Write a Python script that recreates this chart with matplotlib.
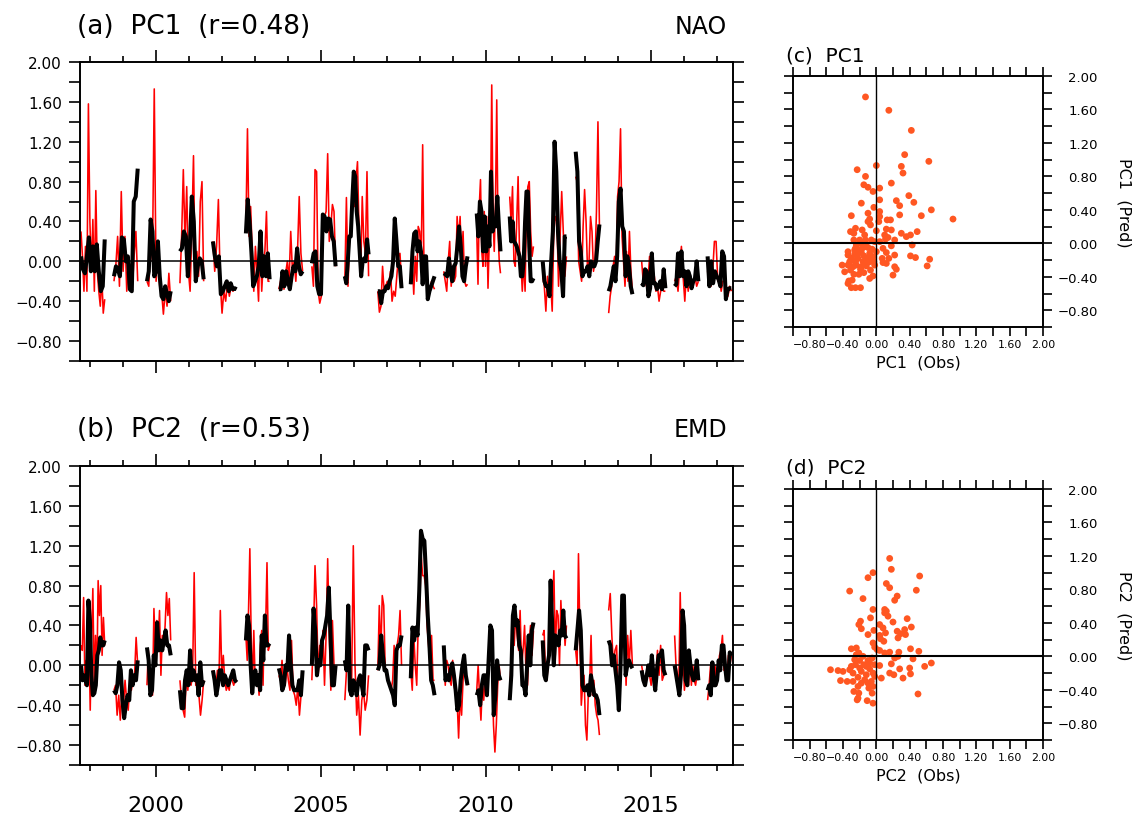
import numpy as np
import matplotlib
matplotlib.use('Agg')
import matplotlib.pyplot as plt

plt.rcParams['font.family'] = ['DejaVu Sans']
plt.rcParams['axes.unicode_minus'] = True

# one season per year, Oct -> mid Jun
season_years = np.arange(1997, 2017)
season_start = 0.73
season_len = 0.72

# PC1, red (pred) and black (obs), one list per season
pc1_red = [
    [0.30, 0.05, -0.30, 0.15, -0.30, 1.58, 0.40, -0.10, 0.42, -0.30, 0.71, -0.10, -0.30, -0.45, -0.15, -0.52, -0.38],
    [-0.20, -0.05, 0.25, -0.25, 0.70, -0.10, 0.25, -0.30, 0.05, -0.12, -0.30, 0.05, 0.30, -0.20],
    [-0.20, -0.25, 0.25, 0.00, 1.73, -0.20, 0.10, -0.25, -0.30, -0.53, -0.30, -0.45, -0.12, -0.40],
    [-0.22, 0.25, 0.92, 0.20, 0.75, -0.10, -0.30, 0.30, 1.06, -0.20, 0.10, -0.15, 0.60, 0.80, -0.20],
    [0.20, -0.10, 0.15, 0.62, -0.20, -0.52, -0.30, -0.40, -0.20, -0.35, -0.25, -0.30, -0.27, -0.27],
    [0.35, 1.33, 0.25, 0.55, 0.10, -0.30, 0.15, -0.10, -0.40, 0.30, -0.30, 0.00, 0.10, 0.50, -0.20, -0.20],
    [-0.28, -0.20, -0.10, -0.28, -0.12, 0.00, -0.20, 0.30, -0.10, 0.00, -0.20, 0.10, 0.65, 0.08, -0.10],
    [-0.05, -0.25, 0.92, 0.90, -0.30, -0.42, -0.35, 0.30, 0.45, 0.50, 1.08, 0.20, 0.35, 0.57, 0.50, -0.05],
    [-0.20, 0.64, -0.25, 0.25, 0.30, 0.60, 0.55, 0.80, 1.00, 0.30, -0.15, 0.65, 0.20, 0.08, 0.90, -0.15],
    [-0.30, -0.51, -0.45, -0.05, -0.30, -0.25, -0.20, -0.25, -0.10, -0.40, -0.30, -0.35, -0.15, 0.05, 0.08, -0.20],
    [-0.23, 0.00, -0.33, 0.05, -0.20, 0.35, 0.30, 0.00, 1.17, -0.20, 0.00, -0.25, -0.33, -0.30, -0.20, -0.25, -0.28],
    [-0.10, -0.20, -0.30, 0.00, 0.20, -0.25, -0.05, -0.20, -0.15, 0.45, 0.20, 0.45, 0.00, 0.30, -0.20, -0.25, -0.23],
    [0.30, -0.23, 0.55, 0.82, 0.10, -0.05, 0.50, -0.05, 0.45, -0.27, 0.20, 0.45, 1.77, 0.45, 0.10, 0.60, 1.62, 0.30, 0.00, -0.12],
    [0.65, 0.40, 0.75, 0.00, -0.05, 0.40, 0.85, 0.10, 0.00, -0.30, 0.00, -0.30, 0.50, 0.75, 0.80, 0.30, 0.05, 0.15],
    [-0.15, -0.25, -0.50, -0.15, -0.30, -0.20, -0.50, 0.30, 0.45, 0.40, -0.25, 0.25, 0.70, 0.30, -0.15, 0.05],
    [0.85, 0.80, 0.00, -0.10, -0.20, 0.35, 0.72, 0.40, -0.10, 0.00, 0.45, 0.30, -0.10, 0.00, 0.50, 1.40, 0.35],
    [-0.52, -0.35, -0.25, -0.05, 0.05, -0.15, 0.65, 0.80, 1.33, 0.25, 0.00, -0.25, 0.10, -0.20, 0.30, -0.10, -0.30],
    [0.00, -0.20, -0.15, -0.25, -0.20, 0.05, -0.20, -0.10, -0.15, -0.30, -0.25, -0.40, -0.30, -0.25, -0.30, -0.30],
    [-0.20, -0.15, -0.30, -0.05, 0.15, -0.15, -0.40, -0.10, -0.30, -0.15, -0.25, -0.20, -0.15, -0.25, -0.20],
    [-0.10, -0.20, -0.25, -0.10, 0.20, 0.20, -0.20, -0.15, -0.30, -0.20, -0.20, -0.25, -0.35, -0.25, -0.30],
]
pc1_black = [
    [0.05, -0.08, -0.12, 0.05, 0.24, -0.10, 0.15, -0.10, 0.17, -0.10, -0.30, -0.25, 0.22],
    [-0.15, -0.05, -0.08, -0.15, 0.24, 0.22, 0.00, 0.05, -0.28, -0.30, 0.60, 0.65, 0.93],
    [-0.20, -0.10, 0.42, 0.30, -0.15, -0.10, 0.20, -0.15, -0.35, -0.38, -0.25, -0.33, -0.40, -0.30],
    [0.10, 0.13, 0.30, 0.25, -0.15, 0.15, 0.65, 0.40, -0.20, -0.05, 0.03, 0.00, -0.18],
    [0.20, 0.05, -0.05, 0.05, -0.33, -0.30, -0.25, -0.20, -0.30, -0.22, -0.28, -0.27, -0.28],
    [0.28, 0.62, 0.40, 0.10, -0.25, -0.20, -0.15, -0.05, 0.30, -0.15, 0.05, -0.15, 0.08, -0.18],
    [-0.28, -0.28, -0.10, -0.25, -0.10, -0.20, -0.28, -0.15, -0.05, -0.10, 0.13, -0.05, -0.13, -0.10],
    [-0.02, 0.08, 0.10, -0.25, -0.33, -0.33, 0.47, 0.45, 0.30, 0.43, 0.42, 0.25, 0.20, -0.05],
    [-0.15, -0.22, 0.00, 0.25, 0.25, 0.60, 0.90, 0.85, 0.50, 0.35, 0.10, -0.15, 0.00, 0.03, 0.00, 0.22, 0.07],
    [-0.30, -0.30, -0.42, -0.30, -0.30, -0.25, -0.27, -0.20, -0.15, 0.00, 0.43, 0.20, -0.05, -0.05, -0.27],
    [-0.23, 0.10, 0.28, 0.30, 0.10, 0.20, 0.10, -0.23, 0.05, 0.05, -0.38, -0.30, -0.25, -0.20, -0.15],
    [-0.12, -0.13, -0.15, 0.03, -0.10, -0.20, -0.05, -0.02, 0.15, 0.35, 0.15, -0.15, -0.20, -0.05, 0.05],
    [0.48, 0.25, 0.60, 0.50, 0.10, 0.45, 0.10, 0.35, 0.15, 0.90, 0.30, 0.40, 0.35, 0.65, 0.35, 0.10],
    [0.45, 0.20, 0.40, 0.20, 0.18, 0.15, 0.10, 0.05, -0.15, -0.15, 0.00, 0.40, 0.70, 0.70, 0.15, -0.20, -0.20, -0.17],
    [0.00, -0.20, -0.25, -0.25, -0.35, 0.00, 0.30, 1.20, 0.90, 0.30, 0.00, -0.10, -0.35, 0.25, 0.25],
    [1.10, 0.90, 0.20, 0.10, -0.15, -0.10, -0.10, -0.05, -0.15, 0.00, -0.05, -0.05, 0.00, 0.20, 0.37],
    [-0.30, -0.25, -0.15, -0.05, -0.20, 0.05, 0.60, 0.73, 0.35, 0.30, -0.15, 0.05, -0.05, -0.25, -0.33],
    [-0.22, -0.24, -0.08, -0.10, -0.35, -0.27, 0.08, -0.22, -0.22, -0.28, -0.25, -0.20, -0.28, -0.08, -0.27],
    [-0.25, -0.23, 0.08, -0.15, 0.10, -0.15, -0.10, -0.25, -0.10, -0.15, -0.27, -0.20, -0.17, 0.00, -0.20],
    [0.05, -0.25, 0.00, -0.22, -0.10, -0.15, -0.18, -0.25, 0.10, 0.05, -0.38, -0.28, -0.27, -0.27],
]

# PC2, same layout
pc2_red = [
    [0.20, 0.15, 0.68, -0.20, 0.05, -0.15, 0.30, -0.45, 0.30, 0.77, -0.20, 0.30, -0.15, 0.85, 0.50, 0.80, 0.10, 0.48, 0.20],
    [-0.25, -0.20, -0.50, -0.30, -0.55, -0.25, -0.40, -0.15, -0.35, -0.45, -0.20, -0.25, -0.15, -0.10, 0.28, 0.00],
    [-0.20, 0.15, -0.25, -0.10, -0.30, 0.57, 0.15, 0.45, 0.20, 0.55, -0.10, 0.30, 0.20, 0.40, 0.73, 0.50, 0.67, 0.25],
    [-0.15, -0.35, -0.45, -0.52, -0.10, -0.25, 0.05, -0.20, -0.10, 0.93, -0.20, -0.15, -0.30, -0.50, -0.35, -0.15],
    [-0.05, -0.10, -0.25, -0.05, -0.20, 0.55, -0.10, 0.10, -0.15, -0.25, -0.20, -0.25, -0.10, -0.15, -0.20, -0.15, -0.17],
    [0.30, 0.05, 0.55, 1.17, 0.30, -0.25, 0.35, -0.15, -0.20, -0.10, -0.30, 0.20, 0.35, -0.20, 0.50, 0.40, 1.03, 0.15, 0.20],
    [-0.10, -0.15, 0.05, -0.20, -0.20, 0.00, -0.15, -0.25, 0.25, -0.25, -0.30, -0.40, -0.20, -0.50, -0.30, -0.30],
    [-0.15, 0.30, 1.00, 0.60, -0.10, 0.20, 0.00, 0.35, -0.20, 0.30, 1.07, 0.30, -0.25, 0.45, 0.00, -0.10],
    [-0.35, -0.05, 0.30, -0.30, -0.20, 1.20, 0.00, -0.50, -0.30, -0.70, -0.35, -0.25, -0.45, -0.35, -0.10],
    [-0.05, 0.60, 0.10, 0.70, 0.60, -0.05, -0.10, -0.15, -0.20, -0.25, -0.15, 0.20, -0.20, 0.20, 0.30, 0.55, 0.00],
    [-0.05, -0.25, 0.30, 0.00, -0.20, 0.40, 0.60, 1.10, 0.90, 0.90, 0.80, 0.40, 0.20, 0.00, 0.30, -0.15, -0.15],
    [0.15, -0.20, 0.05, 0.00, -0.15, -0.20, 0.05, -0.20, -0.30, -0.35, -0.73, -0.30, -0.50, -0.15, -0.05, -0.10, -0.20],
    [-0.25, 0.00, -0.30, -0.55, -0.20, -0.35, -0.10, -0.20, -0.10, 0.20, 0.40, -0.05, -0.60, -0.87, -0.60, -0.20, 0.00, -0.15],
    [-0.25, 0.05, 0.30, 0.20, 0.50, 0.30, 0.15, 0.55, 0.00, 0.15, 0.40, -0.10, -0.20, 0.20, 0.40, 0.10, 0.35],
    [0.30, 0.35, -0.10, -0.15, 0.05, 0.30, 0.20, 0.60, 0.95, 0.10, 0.55, 0.50, 0.00, 0.65, 0.30, 0.50, 0.20, 0.40],
    [0.15, 0.00, 1.12, 0.30, -0.40, -0.20, -0.10, -0.60, -0.75, -0.30, -0.20, 0.30, -0.30, -0.15, -0.40, -0.50, -0.55, -0.70],
    [0.55, 0.72, 0.30, 0.00, 0.15, 0.20, -0.30, -0.15, 0.30, 0.60, 0.40, -0.20, 0.30, 0.00, 0.35, 0.00],
    [0.00, -0.10, -0.15, -0.10, 0.00, -0.10, -0.20, -0.05, -0.15, -0.10, 0.15, -0.10, 0.20, -0.15, -0.10, -0.05],
    [0.30, 0.00, -0.10, -0.20, 0.73, -0.05, 0.10, -0.25, -0.10, -0.15, -0.20, 0.10, -0.20, 0.00, -0.15, -0.20, -0.10, -0.15],
    [-0.35, -0.20, 0.00, 0.00, -0.20, 0.00, -0.20, -0.05, 0.10, 0.15, 0.30, -0.05, 0.00, -0.15, 0.10, 0.00, 0.10],
]
pc2_black = [
    [0.00, -0.15, -0.10, -0.15, -0.20, 0.65, 0.45, -0.10, -0.30, -0.28, -0.20, 0.10, 0.15, 0.28, 0.20, 0.20, 0.25],
    [-0.25, -0.28, -0.20, 0.03, -0.05, -0.35, -0.53, -0.40, -0.30, -0.35, -0.05, -0.20, -0.10, -0.15, 0.05],
    [0.18, 0.05, -0.30, -0.25, 0.10, 0.00, 0.43, 0.15, 0.25, 0.15, 0.25, 0.35, 0.20, 0.20, 0.10],
    [-0.25, -0.43, -0.43, -0.15, -0.05, -0.20, 0.15, -0.15, -0.05, -0.15, -0.10, -0.30, 0.03, -0.20, -0.15],
    [-0.05, -0.15, -0.30, -0.20, -0.05, -0.05, -0.20, -0.10, -0.15, -0.20, -0.15, -0.10, -0.05, -0.15, -0.17],
    [0.25, 0.50, 0.40, 0.00, -0.28, -0.10, -0.05, -0.20, -0.10, -0.25, 0.30, 0.05, 0.50, 0.20, 0.20, 0.22],
    [-0.03, -0.10, -0.25, -0.20, 0.00, -0.05, 0.30, 0.00, -0.20, -0.25, -0.25, -0.25, -0.15, -0.30, -0.05],
    [0.00, 0.57, 0.35, -0.10, 0.05, 0.00, 0.25, 0.30, 0.40, 0.50, 0.78, 0.30, -0.20, -0.20, 0.00],
    [0.05, -0.05, 0.60, -0.25, -0.30, -0.15, -0.20, -0.30, -0.15, -0.10, -0.20, -0.30, 0.20, 0.20, 0.15],
    [-0.05, 0.00, 0.30, 0.10, -0.05, -0.05, -0.15, -0.20, -0.25, -0.30, -0.40, 0.15, 0.20, 0.20, 0.30],
    [-0.13, 0.38, 0.25, 0.38, 0.30, 0.75, 1.35, 1.27, 1.25, 0.90, 0.50, 0.20, -0.15, -0.20, -0.30],
    [0.20, -0.15, -0.10, -0.15, -0.05, 0.02, -0.10, -0.25, -0.45, -0.40, -0.15, 0.00, 0.10, -0.10, -0.20],
    [-0.30, -0.25, -0.40, -0.20, -0.10, -0.10, -0.30, 0.05, 0.40, 0.35, -0.50, -0.30, 0.05, -0.10, -0.15],
    [-0.35, -0.10, 0.50, 0.60, 0.40, 0.45, 0.20, 0.15, -0.20, -0.20, -0.30, 0.00, 0.30, 0.00, 0.35, 0.43],
    [0.25, -0.10, -0.15, 0.00, 0.10, 0.85, 0.40, 0.00, 0.30, 0.25, 0.20, 0.35, 0.30, 0.55, 0.30, 0.27],
    [0.15, 0.35, 0.55, 0.35, -0.20, -0.25, -0.25, -0.20, -0.30, -0.10, -0.20, -0.30, -0.30, -0.35, -0.50],
    [0.25, 0.20, 0.00, 0.10, -0.05, -0.20, -0.45, 0.00, 0.70, 0.70, -0.10, 0.00, 0.05, 0.00, -0.03],
    [-0.05, -0.15, -0.20, -0.10, 0.00, -0.10, 0.10, -0.10, -0.25, -0.05, 0.10, 0.10, 0.15, -0.05, -0.10],
    [0.00, -0.10, -0.20, -0.30, -0.10, 0.55, 0.40, -0.15, -0.20, 0.15, 0.00, -0.10, -0.15, -0.10, 0.05, -0.15],
    [-0.25, -0.20, -0.30, 0.03, -0.20, -0.20, -0.15, 0.05, -0.05, 0.20, 0.20, 0.00, -0.15, -0.15, 0.13, 0.10],
]

# scatter pairs (obs, pred)
pc1_scatter = [
    (-0.13, 1.75), (0.15, 1.59), (0.42, 1.35), (0.34, 1.06), (0.63, 0.98), (0.00, 0.93),
    (0.30, 0.92), (-0.23, 0.88), (0.32, 0.84), (-0.13, 0.80), (0.18, 0.72), (-0.15, 0.70),
    (-0.10, 0.67), (0.04, 0.66), (-0.04, 0.62), (0.39, 0.57), (-0.18, 0.48), (0.04, 0.52),
    (0.24, 0.51), (0.45, 0.49), (0.28, 0.45), (-0.03, 0.43), (0.66, 0.40), (0.04, 0.38),
    (-0.10, 0.36), (0.28, 0.34), (0.54, 0.33), (-0.30, 0.33), (0.92, 0.29), (0.04, 0.32),
    (-0.08, 0.29), (0.13, 0.28), (0.17, 0.28), (-0.10, 0.26), (0.03, 0.26), (-0.07, 0.22),
    (0.00, 0.15), (0.12, 0.17), (0.18, 0.16), (0.49, 0.14), (-0.17, 0.16), (-0.25, 0.18),
    (-0.31, 0.14), (-0.27, 0.12), (0.30, 0.12), (0.41, 0.10), (0.10, 0.10), (-0.14, 0.10),
    (0.36, 0.08), (0.14, 0.07), (0.11, 0.05), (0.22, 0.04), (-0.27, 0.04), (-0.20, 0.04),
    (-0.13, 0.04), (-0.06, 0.04), (-0.02, 0.02), (0.04, 0.02), (-0.24, -0.02), (0.43, -0.02),
    (0.18, -0.03), (0.08, -0.06), (-0.12, -0.04), (-0.17, -0.06), (-0.25, -0.06), (-0.05, -0.07),
    (-0.34, -0.10), (-0.18, -0.11), (0.00, -0.10), (0.12, -0.11), (-0.34, -0.14), (-0.26, -0.13),
    (0.22, -0.14), (0.41, -0.15), (0.47, -0.17), (0.64, -0.19), (-0.22, -0.18), (-0.10, -0.18),
    (-0.04, -0.16), (0.07, -0.18), (0.15, -0.18), (-0.16, -0.22), (-0.28, -0.20), (-0.08, -0.22),
    (0.08, -0.23), (0.12, -0.24), (-0.41, -0.26), (-0.34, -0.26), (-0.24, -0.26), (-0.12, -0.27),
    (-0.02, -0.26), (0.61, -0.27), (0.22, -0.28), (0.24, -0.31), (-0.19, -0.31), (-0.07, -0.32),
    (-0.31, -0.32), (-0.38, -0.34), (-0.27, -0.37), (-0.21, -0.37), (0.20, -0.38), (-0.04, -0.39),
    (-0.08, -0.42), (-0.33, -0.45), (-0.29, -0.44), (-0.34, -0.48), (-0.30, -0.53), (-0.25, -0.53),
    (-0.19, -0.53), (-0.20, -0.08), (-0.15, -0.15), (-0.25, -0.22), (-0.10, -0.05), (-0.30, -0.18),
    (-0.18, -0.28), (-0.05, -0.18), (-0.22, -0.12), (-0.12, -0.20), (-0.28, -0.28), (-0.08, -0.12),
    (-0.15, -0.35), (-0.32, -0.22), (-0.03, -0.22), (-0.18, 0.00), (-0.26, -0.08),
]
pc2_scatter = [
    (0.16, 1.17), (0.18, 1.04), (-0.04, 1.00), (0.52, 0.96), (-0.10, 0.94), (0.12, 0.87),
    (0.16, 0.82), (-0.32, 0.78), (0.48, 0.79), (0.25, 0.72), (0.22, 0.67), (-0.16, 0.69),
    (-0.04, 0.56), (0.10, 0.56), (0.12, 0.54), (0.10, 0.52), (0.14, 0.48), (-0.07, 0.46),
    (0.37, 0.45), (0.20, 0.41), (-0.19, 0.42), (-0.21, 0.38), (0.04, 0.38), (0.42, 0.35),
    (0.08, 0.34), (0.34, 0.32), (-0.18, 0.33), (-0.03, 0.31), (0.25, 0.30), (-0.10, 0.26),
    (0.11, 0.28), (0.29, 0.27), (0.35, 0.26), (0.04, 0.25), (0.05, 0.21), (0.26, 0.22),
    (0.09, 0.18), (-0.04, 0.16), (-0.02, 0.11), (-0.30, 0.09), (-0.24, 0.10), (0.41, 0.09),
    (0.51, 0.06), (0.01, 0.08), (0.04, 0.07), (0.10, 0.04), (0.16, 0.05), (0.27, 0.05),
    (-0.21, 0.04), (-0.24, 0.02), (0.26, 0.00), (0.22, -0.02), (0.44, -0.03), (0.66, -0.08),
    (0.58, -0.12), (0.18, -0.09), (0.04, -0.11), (0.28, -0.15), (0.40, -0.14), (-0.55, -0.16),
    (-0.46, -0.17), (-0.40, -0.18), (-0.32, -0.16), (0.16, -0.20), (0.21, -0.22), (0.41, -0.21),
    (0.06, -0.26), (0.32, -0.26), (-0.43, -0.29), (-0.35, -0.30), (-0.28, -0.30), (-0.22, -0.36),
    (-0.09, -0.38), (-0.04, -0.36), (-0.27, -0.42), (-0.21, -0.44), (-0.05, -0.44), (0.50, -0.45),
    (-0.22, -0.50), (-0.23, -0.52), (-0.11, -0.53), (-0.04, -0.56), (-0.20, -0.05), (-0.15, -0.10),
    (-0.10, -0.05), (-0.05, -0.02), (-0.25, -0.10), (-0.18, -0.18), (-0.12, -0.22), (-0.08, -0.15),
    (-0.02, -0.10), (-0.28, -0.20), (-0.22, -0.25), (-0.14, -0.28), (-0.06, -0.30), (-0.30, -0.12),
    (-0.16, 0.00), (-0.04, -0.20), (-0.10, -0.32), (-0.20, -0.14), (-0.26, -0.04), (-0.12, -0.12),
    (-0.02, -0.24), (-0.18, -0.32), (-0.08, -0.08),
]

W, H = 1135, 820
fig = plt.figure(figsize=(W / 100, H / 100), dpi=100)


def box(l, t, r, b):
    return [l / W, 1 - b / H, (r - l) / W, (b - t) / H]


def fmt(v):
    return ('%.2f' % v).replace('-', '\u2212')


def style_axes(ax):
    for s in ax.spines.values():
        s.set_linewidth(1.4)
    ax.tick_params(which='both', direction='out', top=True, right=True, width=1.2)


def draw_series(ax, segs, color, lw):
    for yr, vals in zip(season_years, segs):
        t0 = yr + season_start
        t = np.linspace(t0, t0 + season_len, len(vals))
        ax.plot(t, vals, color=color, lw=lw, solid_joinstyle='round', solid_capstyle='butt')


def time_panel(ax, red, black, show_years):
    draw_series(ax, red, '#ff0000', 1.15)
    ax.axhline(0, color='k', lw=1.1, zorder=3)
    draw_series(ax, black, 'k', 2.9)
    ax.set_xlim(1997.7, 2017.5)
    ax.set_ylim(-1.0, 2.0)
    style_axes(ax)
    ax.set_xticks([2000, 2005, 2010, 2015])
    ax.set_xticks(np.arange(1998, 2018), minor=True)
    yt = np.arange(-0.8, 2.01, 0.4)
    ax.set_yticks(yt)
    ax.set_yticks(np.arange(-1.0, 2.01, 0.4), minor=True)
    ax.set_yticklabels([fmt(v) for v in yt])
    ax.tick_params(axis='x', which='major', length=8.6)
    ax.tick_params(axis='x', which='minor', length=4.3)
    ax.tick_params(axis='y', which='both', length=7.9, labelsize=11, pad=5)
    ax.tick_params(axis='x', labelsize=16, pad=13, labelbottom=show_years)
    ax.tick_params(labelright=False, labeltop=False)


def scatter_panel(ax, pairs, name):
    obs = [p[0] for p in pairs]
    pred = [p[1] for p in pairs]
    ax.scatter(obs, pred, s=24, color='#ff5722', edgecolors='none', zorder=2)
    ax.axhline(0, color='k', lw=1.5, zorder=3)
    ax.axvline(0, color='k', lw=1.0, zorder=3)
    ax.set_xlim(-1.0, 2.0)
    ax.set_ylim(-1.0, 2.0)
    style_axes(ax)
    major = np.arange(-0.8, 2.01, 0.4)
    minor = np.arange(-1.0, 2.01, 0.2)
    ax.set_xticks(major)
    ax.set_xticks(minor, minor=True)
    ax.set_yticks(major)
    ax.set_yticks(minor, minor=True)
    ax.set_xticklabels([fmt(v) for v in major])
    ax.set_yticklabels([fmt(v) for v in major])
    ax.tick_params(which='both', length=6.4)
    ax.tick_params(axis='x', labelsize=7.9, pad=2)
    ax.tick_params(axis='y', labelsize=9.5, labelleft=False, labelright=True, pad=33)
    for lab in ax.get_yticklabels():
        lab.set_horizontalalignment('right')
    ax.set_xlabel(name + '  (Obs)', fontsize=11.5, labelpad=4)
    ax.yaxis.set_label_position('right')
    ax.set_ylabel(name + '  (Pred)', fontsize=11.5, rotation=-90, labelpad=24)


ax_a = fig.add_axes(box(80, 63, 733, 362))
time_panel(ax_a, pc1_red, pc1_black, False)
ax_b = fig.add_axes(box(80, 467, 733, 766))
time_panel(ax_b, pc2_red, pc2_black, True)

ax_c = fig.add_axes(box(793, 77, 1043, 328))
scatter_panel(ax_c, pc1_scatter, 'PC1')
ax_d = fig.add_axes(box(793, 490, 1043, 741))
scatter_panel(ax_d, pc2_scatter, 'PC2')

fig.text(77 / W, 1 - 34 / H, '(a)  PC1  (r=0.48)', fontsize=19, va='baseline', ha='left')
fig.text(727 / W, 1 - 34 / H, 'NAO', fontsize=17, va='baseline', ha='right')
fig.text(77 / W, 1 - 437 / H, '(b)  PC2  (r=0.53)', fontsize=19, va='baseline', ha='left')
fig.text(727 / W, 1 - 437 / H, 'EMD', fontsize=17, va='baseline', ha='right')
fig.text(786 / W, 1 - 61 / H, '(c)  PC1', fontsize=14.5, va='baseline', ha='left')
fig.text(786 / W, 1 - 474 / H, '(d)  PC2', fontsize=14.5, va='baseline', ha='left')

fig.savefig('out.png', dpi=100, facecolor='white')
